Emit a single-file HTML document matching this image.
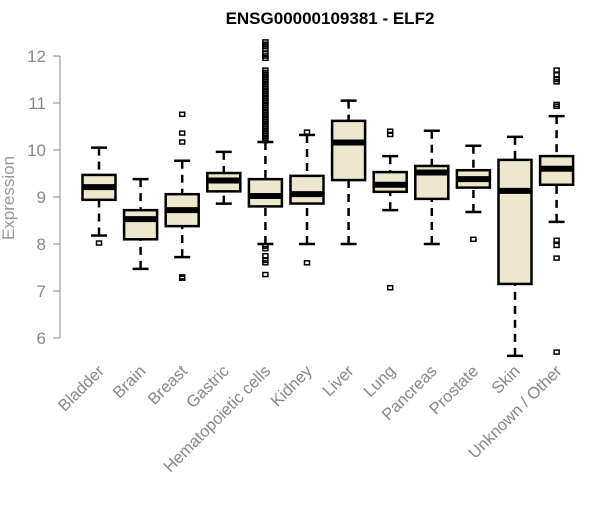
<!DOCTYPE html>
<html><head><meta charset="utf-8"><style>body{margin:0;background:#fff}svg text{font-family:"Liberation Sans",Arial,sans-serif}</style></head>
<body>
<svg id="chart" width="600" height="500" xmlns="http://www.w3.org/2000/svg">
<text x="330" y="24" text-anchor="middle" font-size="17" font-weight="bold">ENSG00000109381 - ELF2</text>
<text transform="translate(14,198) rotate(-90)" text-anchor="middle" font-size="17" fill="#999">Expression</text>
<g id="yaxis"></g>
<g id="boxes"></g>
<g id="xlabels"></g>
</svg>
<script>
const categories=["Bladder","Brain","Breast","Gastric","Hematopoietic cells","Kidney","Liver","Lung","Pancreas","Prostate","Skin","Unknown / Other"];
const whiskerLow=[8.18,7.47,7.72,8.86,8.0,8.0,8.0,8.72,8.0,8.68,5.62,8.47];
const q1=[8.94,8.1,8.38,9.12,8.8,8.86,9.36,9.11,8.96,9.2,7.15,9.26];
const medians=[9.21,8.53,8.72,9.35,9.02,9.06,10.16,9.26,9.52,9.38,9.13,9.6];
const q3=[9.47,8.72,9.06,9.51,9.38,9.45,10.62,9.53,9.66,9.57,9.79,9.87];
const whiskerHigh=[10.05,9.38,9.77,9.96,10.17,10.32,11.05,9.87,10.41,10.09,10.28,10.72];
const outliers=[[8.02],[],[7.3,7.27,10.17,10.36,10.76],[],
 [7.35,7.6,7.65,7.75,7.9,7.95,10.2,10.25,10.3,10.35,10.4,10.45,10.5,10.55,10.6,10.65,10.7,10.75,10.8,10.85,10.9,10.95,11.0,11.05,11.1,11.15,11.2,11.25,11.3,11.35,11.4,11.45,11.5,11.55,11.6,11.65,11.7,11.95,12.0,12.05,12.15,12.2,12.25,12.3],
 [10.38,7.6],[],[10.4,10.33,7.07],[],[8.1],[],[11.7,11.6,11.5,11.45,10.97,10.93,8.08,7.97,7.7,5.7]];
const yTicks=[6,7,8,9,10,11,12];
const NS="http://www.w3.org/2000/svg";
const y=v=>56+(12-v)*47;
const x=i=>99+i*41.6;
function mk(tag,at,parent){const e=document.createElementNS(NS,tag);for(const k in at)e.setAttribute(k,at[k]);parent.appendChild(e);return e;}
const ya=document.getElementById('yaxis');
const ax=mk('line',{x1:60,x2:60,y1:y(12),y2:y(6),stroke:'#888'},ya);


yTicks.forEach(t=>{
 const l=mk('line',{x1:53,x2:60,y1:y(t),y2:y(t),stroke:'#888'},ya);
 
 
 const tx=mk('text',{x:46,y:y(t)+6,'text-anchor':'end','font-size':17,fill:'#888'},ya);
 
 
 tx.textContent=t;
});
const bx=document.getElementById('boxes');
const hw=16.5;
categories.forEach((c,i)=>{
 const g=mk('g',{},bx);
 
 
 const cx=x(i);
 mk('line',{x1:cx,x2:cx,y1:y(whiskerHigh[i]),y2:y(q3[i]),stroke:'#000','stroke-width':2.5,'stroke-dasharray':'8,6'},g);
 mk('line',{x1:cx,x2:cx,y1:y(whiskerLow[i]),y2:y(q1[i]),stroke:'#000','stroke-width':2.5,'stroke-dasharray':'8,6'},g);
 mk('line',{x1:cx-8,x2:cx+8,y1:y(whiskerHigh[i]),y2:y(whiskerHigh[i]),stroke:'#000','stroke-width':2.5},g);
 mk('line',{x1:cx-8,x2:cx+8,y1:y(whiskerLow[i]),y2:y(whiskerLow[i]),stroke:'#000','stroke-width':2.5},g);
 mk('rect',{x:cx-hw,y:y(q3[i]),width:hw*2,height:y(q1[i])-y(q3[i]),fill:'#ede7cd',stroke:'#000','stroke-width':2.5},g);
 mk('line',{x1:cx-hw,x2:cx+hw,y1:y(medians[i]),y2:y(medians[i]),stroke:'#000','stroke-width':6},g);
 outliers[i].forEach(v=>{
  const o=mk('rect',{x:cx-2.5,y:y(v)-2,width:5,height:4,fill:'none',stroke:'#000','stroke-width':1.5},g);
  
  
 });
 const t=mk('text',{transform:`translate(${cx+6},${372}) rotate(-45)`,'text-anchor':'end','font-size':16.5,fill:'#888'},document.getElementById('xlabels'));
 
 
 t.textContent=c;
});
</script>
</body></html>
